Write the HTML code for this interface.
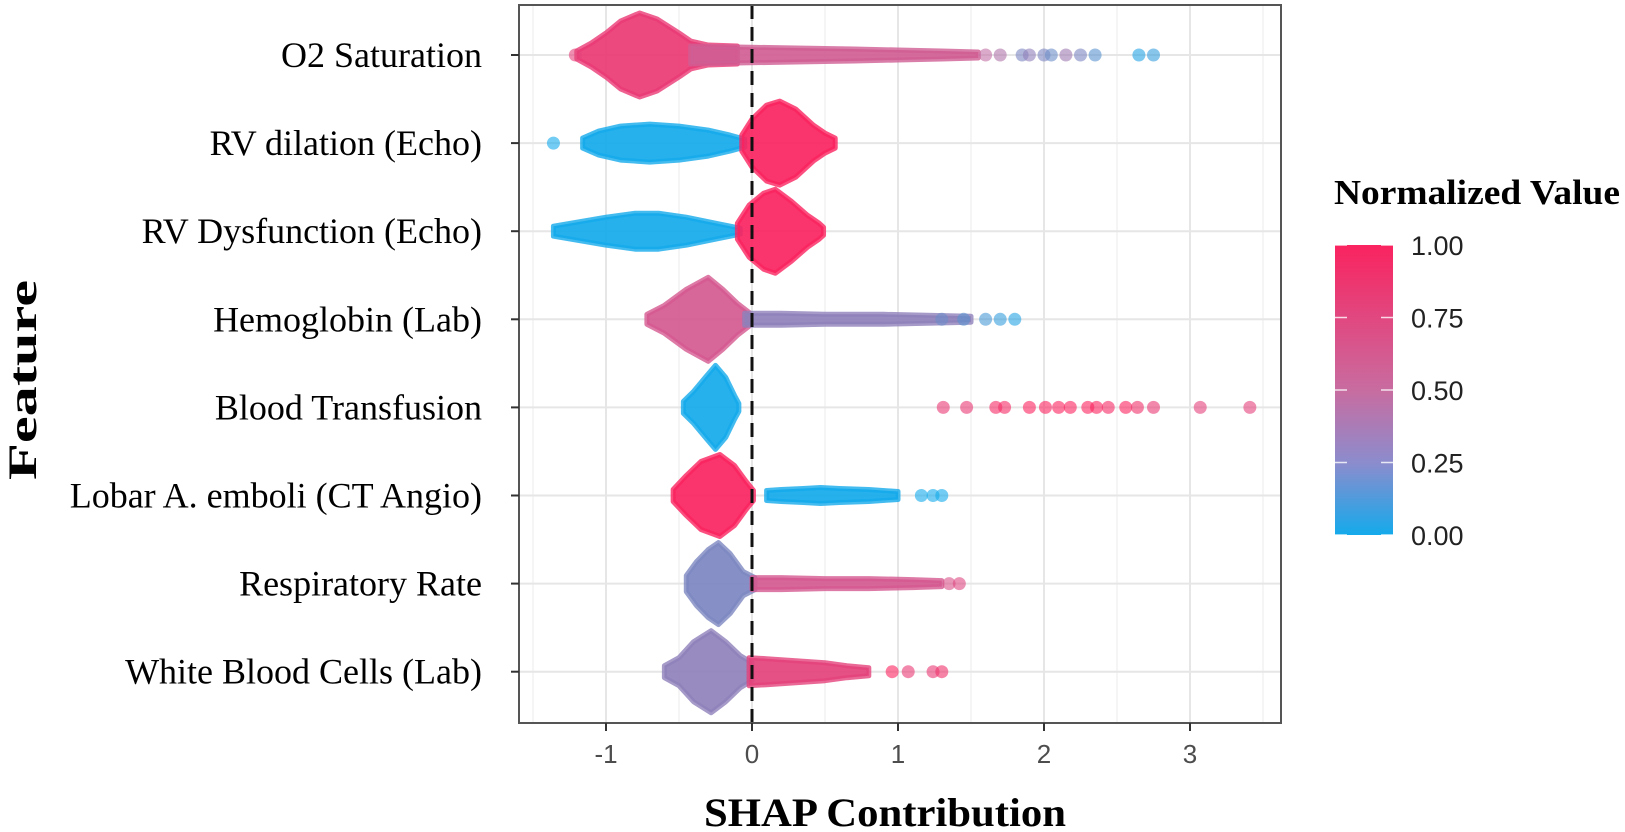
<!DOCTYPE html>
<html><head><meta charset="utf-8"><style>
body{margin:0;background:#fff;}
svg{display:block;}
</style></head><body>
<svg id="chart" width="1625" height="832" xmlns="http://www.w3.org/2000/svg">
<defs>
<linearGradient id="cbar" x1="0" y1="0" x2="0" y2="1">
<stop offset="0" stop-color="rgb(250,35,95)"/>
<stop offset="0.5" stop-color="rgb(200,108,160)"/>
<stop offset="0.75" stop-color="rgb(140,140,205)"/>
<stop offset="1" stop-color="rgb(20,170,235)"/>
</linearGradient>
</defs>
<g id="grid"></g>
<g id="marks"></g>
<g id="axes"></g>
<text x="36" y="380" transform="rotate(-90 36 380)" text-anchor="middle" font-family="Liberation Serif, serif" font-weight="bold" font-size="40" textLength="200" lengthAdjust="spacingAndGlyphs">Feature</text>
<text x="885" y="826" text-anchor="middle" font-family="Liberation Serif, serif" font-weight="bold" font-size="40" textLength="362" lengthAdjust="spacingAndGlyphs">SHAP Contribution</text>
<g>
<text x="1334" y="204" font-family="Liberation Serif, serif" font-weight="bold" font-size="35" textLength="286" lengthAdjust="spacingAndGlyphs">Normalized Value</text>
<rect x="1335" y="245" width="58" height="290" fill="url(#cbar)"/>
<g id="legendTicks"></g>
</g>
</svg>
<script>
const features = ["O2 Saturation","RV dilation (Echo)","RV Dysfunction (Echo)","Hemoglobin (Lab)","Blood Transfusion","Lobar A. emboli (CT Angio)","Respiratory Rate","White Blood Cells (Lab)"];
const xTicks = [-1,0,1,2,3];
const legendVals = [1.00,0.75,0.50,0.25,0.00];
// body profiles: [feature index, color value, xs, half-height (density)]
const bodyFeature = [0,0,1,1,2,2,3,3,4,5,5,6,6,7,7];
const bodyColor = [0.85,0.62,0,1,0,1,0.65,0.35,0,1,0,0.3,0.65,0.35,0.8];
const bodyXs = [
 [-1.2,-1.1,-1.0,-0.9,-0.77,-0.65,-0.5,-0.42,-0.3,-0.1],
 [-0.42,-0.1,0.3,0.7,1.0,1.3,1.55],
 [-1.16,-1.05,-0.9,-0.7,-0.5,-0.3,-0.15,-0.05],
 [-0.07,0.0,0.1,0.19,0.3,0.42,0.5,0.57],
 [-1.36,-1.2,-1.0,-0.8,-0.64,-0.45,-0.25,-0.08],
 [-0.1,-0.02,0.08,0.16,0.27,0.38,0.46,0.49],
 [-0.72,-0.6,-0.45,-0.3,-0.2,-0.1,-0.02],
 [-0.05,0.2,0.5,0.9,1.2,1.5],
 [-0.47,-0.4,-0.32,-0.25,-0.18,-0.12,-0.09],
 [-0.54,-0.45,-0.35,-0.22,-0.12,-0.04,0.01],
 [0.1,0.2,0.35,0.47,0.6,0.8,1.0],
 [-0.45,-0.38,-0.3,-0.23,-0.15,-0.06,0.02],
 [0.0,0.2,0.5,0.8,1.1,1.3],
 [-0.6,-0.5,-0.4,-0.28,-0.18,-0.08,0.0],
 [-0.02,0.1,0.3,0.5,0.65,0.8]
];
const bodyHalf = [
 [4,12,22,34,42,36,22,14,10,9],
 [9,8,7,6,5,4,3],
 [5,12,17,19,17,13,8,4],
 [8,24,38,42,34,18,10,5],
 [5,9,14,18,18,14,8,3],
 [8,26,38,42,30,16,8,4],
 [5,14,30,42,30,16,7],
 [6,6,5,5,4,3],
 [6,16,30,42,30,12,4],
 [6,20,34,41,30,14,5],
 [5,6,7,8,7,6,4],
 [8,22,34,41,30,12,6],
 [6,6,5,5,4,3],
 [6,14,30,41,30,16,9],
 [14,13,11,9,6,4]
];
// individual points
const ptFeature = [0,0,0,0,0,0,0,0,0,0,0,0,1,3,3,3,3,3,4,4,4,4,4,4,4,4,4,4,4,4,4,4,4,4,5,5,5,6,6,7,7,7,7];
const ptX = [-1.21,1.6,1.7,1.85,1.9,2.0,2.05,2.15,2.25,2.35,2.65,2.75,-1.36,1.3,1.45,1.6,1.7,1.8,1.31,1.47,1.67,1.73,1.90,2.01,2.10,2.18,2.30,2.36,2.44,2.56,2.64,2.75,3.07,3.41,1.16,1.24,1.30,1.35,1.42,0.96,1.07,1.24,1.30];
const ptVal = [0.8,0.5,0.45,0.3,0.35,0.3,0.25,0.4,0.3,0.2,0.05,0.1,0,0.25,0.2,0.15,0.1,0.05,0.85,0.85,0.95,0.95,1,1,1,1,1,1,0.95,1,0.9,0.85,0.8,0.8,0,0,0,0.7,0.75,1,0.85,0.85,0.9];

const X0=752, XU=146, Y0=55, YS=88.1, PL=519, PR=1281, PT=5, PB=723;
const sx = v => X0 + v*XU;
const sy = i => Y0 + i*YS;
const NS="http://www.w3.org/2000/svg";
function mk(tag, attrs, parent){const e=document.createElementNS(NS,tag);for(const k in attrs)e.setAttribute(k,attrs[k]);parent.appendChild(e);return e;}
function col(v){
  const a=[20,170,235], m=[195,112,165], b=[250,35,95];
  let c;
  if(v<0.5){const t=v/0.5;c=a.map((x,i)=>Math.round(x+(m[i]-x)*t));}
  else{const t=(v-0.5)/0.5;c=m.map((x,i)=>Math.round(x+(b[i]-x)*t));}
  return `rgb(${c[0]},${c[1]},${c[2]})`;
}
const grid=document.getElementById('grid'), marks=document.getElementById('marks'), axes=document.getElementById('axes');
mk('rect',{x:PL,y:PT,width:PR-PL,height:PB-PT,fill:'#fff'},grid);
for(let v=-1.5; v<=3.5; v+=0.5){
  const x=sx(v); if(x<PL||x>PR) continue;
  const g=mk('line',{x1:x,x2:x,y1:PT,y2:PB,stroke:Number.isInteger(v)?'#e6e6e6':'#f2f2f2','stroke-width':Number.isInteger(v)?2:1.5},grid);
  
  
}
features.forEach((f,i)=>{
  const g=mk('line',{x1:PL,x2:PR,y1:sy(i),y2:sy(i),stroke:'#e6e6e6','stroke-width':2},grid);
  
  
});
bodyXs.forEach((xs,b)=>{
  const hs=bodyHalf[b], cy=sy(bodyFeature[b]);
  let top=xs.map((x,k)=>[sx(x),cy-hs[k]]), bot=xs.map((x,k)=>[sx(x),cy+hs[k]]).reverse();
  const pts=top.concat(bot);
  const p=mk('polygon',{points:pts.map(p=>p.join(',')).join(' '),fill:col(bodyColor[b]),'fill-opacity':0.92,stroke:col(bodyColor[b]),'stroke-width':5,'stroke-linejoin':'round','stroke-opacity':0.8},marks);
  
  
});
ptX.forEach((x,k)=>{
  const c=mk('circle',{cx:sx(x),cy:sy(ptFeature[k]),r:6.5,fill:col(ptVal[k]),'fill-opacity':0.6},marks);
  
  
});
const zl=mk('line',{x1:sx(0),x2:sx(0),y1:PT,y2:PB,stroke:'#111','stroke-width':3,'stroke-dasharray':'14 8'},axes);


const fr=mk('rect',{x:PL,y:PT,width:PR-PL,height:PB-PT,fill:'none',stroke:'#555','stroke-width':2},axes);


xTicks.forEach(v=>{
  mk('line',{x1:sx(v),x2:sx(v),y1:PB,y2:PB+8,stroke:'#333','stroke-width':2},axes);
  const t=mk('text',{x:sx(v),y:PB+40,'text-anchor':'middle','font-family':'Liberation Sans, sans-serif','font-size':26,fill:'#4d4d4d'},axes);
  t.textContent=v;
  
  
});
features.forEach((f,i)=>{
  mk('line',{x1:PL-8,x2:PL,y1:sy(i),y2:sy(i),stroke:'#333','stroke-width':2},axes);
  const t=mk('text',{x:482,y:sy(i)+12,'text-anchor':'end','font-family':'Liberation Serif, serif','font-size':36,fill:'#000'},axes);
  t.textContent=f;
  
  
});
const lt=document.getElementById('legendTicks');
legendVals.forEach(v=>{
  const y=535-v*290;
  mk('line',{x1:1335,x2:1347,y1:y,y2:y,stroke:'#fff','stroke-width':1.5,'stroke-opacity':0.8},lt);
  mk('line',{x1:1381,x2:1393,y1:y,y2:y,stroke:'#fff','stroke-width':1.5,'stroke-opacity':0.8},lt);
  const t=mk('text',{x:1411,y:y+10,'font-family':'Liberation Sans, sans-serif','font-size':27,fill:'#222'},lt);
  t.textContent=v.toFixed(2);
  
  
});
</script>
</body></html>
